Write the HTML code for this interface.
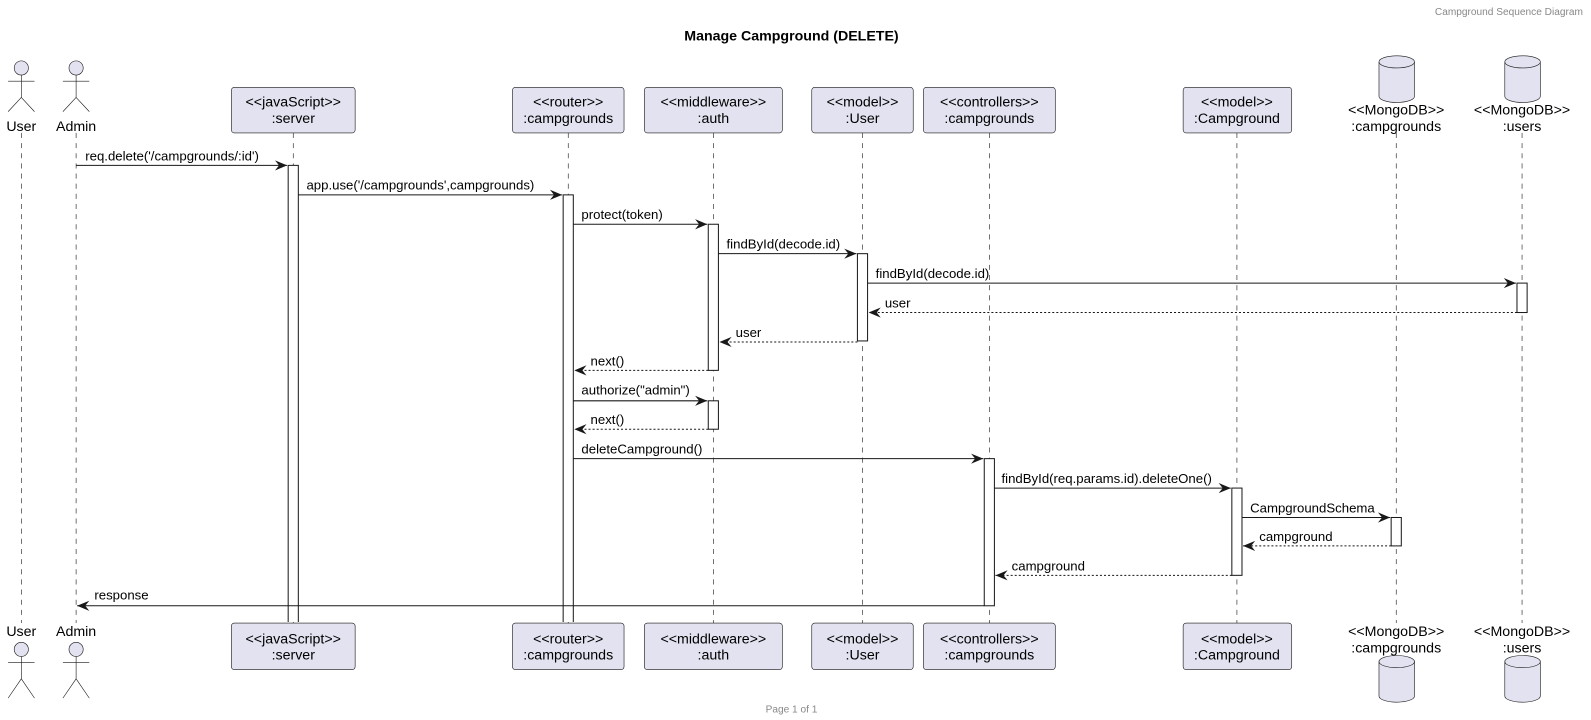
<!DOCTYPE html>
<html><head><meta charset="utf-8"><style>
html,body{margin:0;padding:0;background:#fff;}
svg{display:block;font-family:"Liberation Sans","DejaVu Sans",sans-serif;}
.ll{stroke:#181818;stroke-width:0.6;stroke-dasharray:5,5;}
.box{fill:#E2E2F0;stroke:#181818;stroke-width:0.6;}
.pt{font-size:14px;fill:#000;text-anchor:middle;}
.act{fill:#fff;stroke:#181818;stroke-width:1;}
.m{stroke:#181818;stroke-width:1;}
.d{stroke:#181818;stroke-width:1;stroke-dasharray:2,2;}
.ml{font-size:13px;fill:#000;}
.ah{fill:#181818;}
.actor{fill:#E2E2F0;stroke:#181818;stroke-width:0.6;}
.al{fill:none;stroke:#181818;stroke-width:0.6;}
</style></head><body>
<svg width="1591" height="720" viewBox="0 0 1591 720" xmlns="http://www.w3.org/2000/svg">
<g transform="scale(1.0147)">
<text x="1560" y="15" font-size="10" fill="#888" text-anchor="end">Campground Sequence Diagram</text>
<text x="780" y="40" font-size="14" font-weight="bold" text-anchor="middle">Manage Campground (DELETE)</text>
<text x="780" y="702" font-size="10" fill="#888" text-anchor="middle">Page 1 of 1</text>

<line class="ll" x1="21" y1="131" x2="21" y2="614"/>
<line class="ll" x1="75" y1="131" x2="75" y2="614"/>
<line class="ll" x1="289" y1="131" x2="289" y2="614"/>
<line class="ll" x1="560" y1="131" x2="560" y2="614"/>
<line class="ll" x1="703" y1="131" x2="703" y2="614"/>
<line class="ll" x1="850" y1="131" x2="850" y2="614"/>
<line class="ll" x1="975" y1="131" x2="975" y2="614"/>
<line class="ll" x1="1219" y1="131" x2="1219" y2="614"/>
<line class="ll" x1="1376" y1="131" x2="1376" y2="614"/>
<line class="ll" x1="1500" y1="131" x2="1500" y2="614"/>

<g>
<circle class="actor" cx="21" cy="67" r="7"/><path class="al" d="M21 74V96M8 80H34M8 110L21 96L34 110"/>
<circle class="actor" cx="75" cy="67" r="7"/><path class="al" d="M75 74V96M62 80H88M62 110L75 96L88 110"/>
<text class="pt" x="21" y="129">User</text><text class="pt" x="75" y="129">Admin</text>
</g>
<g>
<text class="pt" x="21" y="627">User</text><text class="pt" x="75" y="627">Admin</text>
<circle class="actor" cx="21" cy="640" r="7"/><path class="al" d="M21 647V669M8 653H34M8 688L21 669L34 688"/>
<circle class="actor" cx="75" cy="640" r="7"/><path class="al" d="M75 647V669M62 653H88M62 688L75 669L88 688"/>
</g>

<rect class="box" x="228" y="86" width="122" height="45" rx="3"/><text class="pt" x="289" y="105">&lt;&lt;javaScript&gt;&gt;</text><text class="pt" x="289" y="121">:server</text>
<rect class="box" x="505" y="86" width="110" height="45" rx="3"/><text class="pt" x="560" y="105">&lt;&lt;router&gt;&gt;</text><text class="pt" x="560" y="121">:campgrounds</text>
<rect class="box" x="635" y="86" width="136" height="45" rx="3"/><text class="pt" x="703" y="105">&lt;&lt;middleware&gt;&gt;</text><text class="pt" x="703" y="121">:auth</text>
<rect class="box" x="800" y="86" width="100" height="45" rx="3"/><text class="pt" x="850" y="105">&lt;&lt;model&gt;&gt;</text><text class="pt" x="850" y="121">:User</text>
<rect class="box" x="910" y="86" width="130" height="45" rx="3"/><text class="pt" x="975" y="105">&lt;&lt;controllers&gt;&gt;</text><text class="pt" x="975" y="121">:campgrounds</text>
<rect class="box" x="1166" y="86" width="107" height="45" rx="3"/><text class="pt" x="1219" y="105">&lt;&lt;model&gt;&gt;</text><text class="pt" x="1219" y="121">:Campground</text>
<path class="box" d="M1359 61 A17.5 6 0 0 1 1394 61 V95 A17.5 6 0 0 1 1359 95 Z"/><path class="al" d="M1359 61 A17.5 6 0 0 0 1394 61"/>
<text class="pt" x="1376" y="113">&lt;&lt;MongoDB&gt;&gt;</text><text class="pt" x="1376" y="129">:campgrounds</text>
<path class="box" d="M1483 61 A17.5 6 0 0 1 1518 61 V95 A17.5 6 0 0 1 1483 95 Z"/><path class="al" d="M1483 61 A17.5 6 0 0 0 1518 61"/>
<text class="pt" x="1500" y="113">&lt;&lt;MongoDB&gt;&gt;</text><text class="pt" x="1500" y="129">:users</text>

<rect class="box" x="228" y="614" width="122" height="46" rx="3"/><text class="pt" x="289" y="634">&lt;&lt;javaScript&gt;&gt;</text><text class="pt" x="289" y="650">:server</text>
<rect class="box" x="505" y="614" width="110" height="46" rx="3"/><text class="pt" x="560" y="634">&lt;&lt;router&gt;&gt;</text><text class="pt" x="560" y="650">:campgrounds</text>
<rect class="box" x="635" y="614" width="136" height="46" rx="3"/><text class="pt" x="703" y="634">&lt;&lt;middleware&gt;&gt;</text><text class="pt" x="703" y="650">:auth</text>
<rect class="box" x="800" y="614" width="100" height="46" rx="3"/><text class="pt" x="850" y="634">&lt;&lt;model&gt;&gt;</text><text class="pt" x="850" y="650">:User</text>
<rect class="box" x="910" y="614" width="130" height="46" rx="3"/><text class="pt" x="975" y="634">&lt;&lt;controllers&gt;&gt;</text><text class="pt" x="975" y="650">:campgrounds</text>
<rect class="box" x="1166" y="614" width="107" height="46" rx="3"/><text class="pt" x="1219" y="634">&lt;&lt;model&gt;&gt;</text><text class="pt" x="1219" y="650">:Campground</text>
<text class="pt" x="1376" y="627">&lt;&lt;MongoDB&gt;&gt;</text><text class="pt" x="1376" y="643">:campgrounds</text>
<path class="box" d="M1359 652 A17.5 6 0 0 1 1394 652 V686 A17.5 6 0 0 1 1359 686 Z"/><path class="al" d="M1359 652 A17.5 6 0 0 0 1394 652"/>
<text class="pt" x="1500" y="627">&lt;&lt;MongoDB&gt;&gt;</text><text class="pt" x="1500" y="643">:users</text>
<path class="box" d="M1483 652 A17.5 6 0 0 1 1518 652 V686 A17.5 6 0 0 1 1483 686 Z"/><path class="al" d="M1483 652 A17.5 6 0 0 0 1518 652"/>

<path class="act" d="M284 613V163H294V613"/>
<path class="act" d="M555 613V192H565V613"/>
<rect class="act" x="698" y="221" width="10" height="144"/>
<rect class="act" x="698" y="395" width="10" height="28"/>
<rect class="act" x="845" y="250" width="10" height="86"/>
<rect class="act" x="1495" y="279" width="10" height="29"/>
<rect class="act" x="970" y="452" width="10" height="145"/>
<rect class="act" x="1214" y="481" width="10" height="86"/>
<rect class="act" x="1371" y="510" width="10" height="28"/>

<line class="m" x1="75" y1="163" x2="283" y2="163"/><path class="ah" d="M283 163L271 158L275 163L271 168Z"/><text class="ml" x="84" y="158">req.delete('/campgrounds/:id')</text>
<line class="m" x1="294" y1="192" x2="554" y2="192"/><path class="ah" d="M554 192L542 187L546 192L542 197Z"/><text class="ml" x="302" y="187">app.use('/campgrounds',campgrounds)</text>
<line class="m" x1="565" y1="221" x2="697" y2="221"/><path class="ah" d="M697 221L685 216L689 221L685 226Z"/><text class="ml" x="573" y="216">protect(token)</text>
<line class="m" x1="708" y1="250" x2="844" y2="250"/><path class="ah" d="M844 250L832 245L836 250L832 255Z"/><text class="ml" x="716" y="245">findById(decode.id)</text>
<line class="m" x1="855" y1="279" x2="1494" y2="279"/><path class="ah" d="M1494 279L1482 274L1486 279L1482 284Z"/><text class="ml" x="863" y="274">findById(decode.id)</text>
<line class="d" x1="1495" y1="308" x2="856" y2="308"/><path class="ah" d="M856 308L868 303L864 308L868 313Z"/><text class="ml" x="872" y="303">user</text>
<line class="d" x1="845" y1="337" x2="709" y2="337"/><path class="ah" d="M709 337L721 332L717 337L721 342Z"/><text class="ml" x="725" y="332">user</text>
<line class="d" x1="698" y1="365" x2="566" y2="365"/><path class="ah" d="M566 365L578 360L574 365L578 370Z"/><text class="ml" x="582" y="360">next()</text>
<line class="m" x1="565" y1="395" x2="697" y2="395"/><path class="ah" d="M697 395L685 390L689 395L685 400Z"/><text class="ml" x="573" y="389">authorize("admin")</text>
<line class="d" x1="698" y1="423" x2="566" y2="423"/><path class="ah" d="M566 423L578 418L574 423L578 428Z"/><text class="ml" x="582" y="418">next()</text>
<line class="m" x1="565" y1="452" x2="969" y2="452"/><path class="ah" d="M969 452L957 447L961 452L957 457Z"/><text class="ml" x="573" y="447">deleteCampground()</text>
<line class="m" x1="980" y1="481" x2="1213" y2="481"/><path class="ah" d="M1213 481L1201 476L1205 481L1201 486Z"/><text class="ml" x="987" y="476">findById(req.params.id).deleteOne()</text>
<line class="m" x1="1224" y1="510" x2="1370" y2="510"/><path class="ah" d="M1370 510L1358 505L1362 510L1358 515Z"/><text class="ml" x="1232" y="505">CampgroundSchema</text>
<line class="d" x1="1371" y1="538" x2="1225" y2="538"/><path class="ah" d="M1225 538L1237 533L1233 538L1237 543Z"/><text class="ml" x="1241" y="533">campground</text>
<line class="d" x1="1214" y1="567" x2="981" y2="567"/><path class="ah" d="M981 567L993 562L989 567L993 572Z"/><text class="ml" x="997" y="562">campground</text>
<line class="m" x1="970" y1="597" x2="76" y2="597"/><path class="ah" d="M76 597L88 592L84 597L88 602Z"/><text class="ml" x="93" y="591">response</text>
</g>
</svg>
</body></html>
